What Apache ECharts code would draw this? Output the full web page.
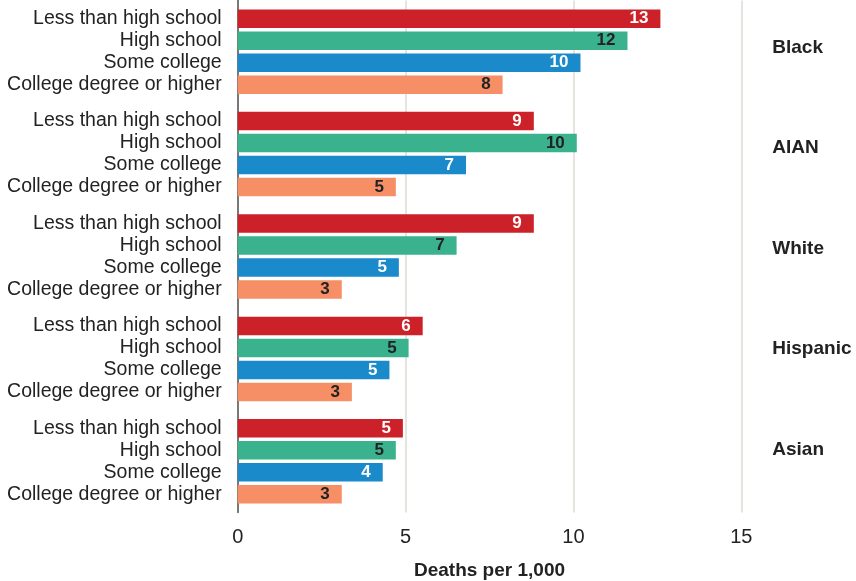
<!DOCTYPE html>
<html>
<head>
<meta charset="utf-8">
<title>Deaths per 1,000 by race and education</title>
<script src="https://cdn.jsdelivr.net/npm/echarts@6/dist/echarts.min.js"></script>
<style>
  html, body { margin: 0; padding: 0; background: #fff; }
  #chart { width: 856px; height: 581px; }
</style>
</head>
<body>
<div id="chart"></div>
<script>
// Race / ethnicity groups, top to bottom
const groups = ['Black', 'AIAN', 'White', 'Hispanic', 'Asian'];

// Education levels, drawn as four bars inside each group
const levels = ['Less than high school', 'High school', 'Some college', 'College degree or higher'];

// Deaths per 1,000, one array per education level (same order as groups)
const lessThanHighSchool = [12.59, 8.82, 8.82, 5.51, 4.92];
const highSchool         = [11.61, 10.10, 6.52, 5.09, 4.71];
const someCollege        = [10.21, 6.80, 4.80, 4.52, 4.32];
const collegeOrHigher    = [7.89, 4.71, 3.10, 3.40, 3.10];

// Value axis ticks
const xTicks = { min: 0, max: 15, interval: 5 };

const FONT = '"Liberation Sans", Arial, sans-serif';
const TEXT = '#222';

const seriesValues = [lessThanHighSchool, highSchool, someCollege, collegeOrHigher];
const barColors   = ['#cc2128', '#3ab28d', '#1a8acb', '#f68e66'];
const labelColors = ['#ffffff', '#222222', '#ffffff', '#222222'];

const chart = echarts.init(document.getElementById('chart'), null, { renderer: 'canvas' });

const GRID_LEFT = 237.7;
const GRID_RIGHT = 856 - 741.3;

chart.setOption({
  animation: false,
  textStyle: { fontFamily: FONT },
  grid: [
    { left: GRID_LEFT, right: GRID_RIGHT, top: 0.5, height: 512, outerBoundsMode: 'none', containLabel: false },
    // group names on the right sit on their own band spacing
    { left: GRID_LEFT, right: GRID_RIGHT, top: -2.75, height: 502.5, outerBoundsMode: 'none', containLabel: false }
  ],
  xAxis: [
    {
      type: 'value',
      gridIndex: 0,
      min: xTicks.min,
      max: xTicks.max,
      interval: xTicks.interval,
      axisLine: { show: false },
      axisTick: { show: false },
      splitLine: { show: true, lineStyle: { color: '#dedbd4', width: 1.5 } },
      axisLabel: { color: TEXT, fontSize: 20, fontFamily: FONT, margin: 15 },
      name: 'Deaths per 1,000',
      nameLocation: 'middle',
      nameGap: 49,
      nameTextStyle: { color: TEXT, fontSize: 19, fontWeight: 'bold', fontFamily: FONT }
    },
    {
      type: 'value',
      gridIndex: 1,
      min: xTicks.min,
      max: xTicks.max,
      show: false
    }
  ],
  yAxis: [
    {
      type: 'category',
      gridIndex: 0,
      data: groups,
      inverse: true,
      axisLine: { show: true, lineStyle: { color: '#555', width: 1.5 } },
      axisTick: { show: false },
      splitLine: { show: false },
      axisLabel: {
        margin: 16,
        color: TEXT,
        fontSize: 19.5,
        fontFamily: FONT,
        lineHeight: 22,
        align: 'right',
        formatter: () => levels.join('\n')
      }
    },
    {
      type: 'category',
      gridIndex: 1,
      data: groups,
      inverse: true,
      position: 'right',
      axisLine: { show: false },
      axisTick: { show: false },
      splitLine: { show: false },
      axisLabel: {
        margin: 31,
        align: 'left',
        color: TEXT,
        fontSize: 19,
        fontWeight: 'bold',
        fontFamily: FONT
      }
    }
  ],
  series: levels.map((name, i) => ({
    name,
    type: 'bar',
    xAxisIndex: 0,
    yAxisIndex: 0,
    data: seriesValues[i],
    barWidth: 18.5,
    barGap: '19%',
    itemStyle: { color: barColors[i] },
    label: {
      show: true,
      position: 'insideRight',
      distance: 12,
      color: labelColors[i],
      fontSize: 17,
      fontWeight: 'bold',
      fontFamily: FONT,
      formatter: (p) => String(Math.round(p.value))
    }
  }))
});
</script>
</body>
</html>
